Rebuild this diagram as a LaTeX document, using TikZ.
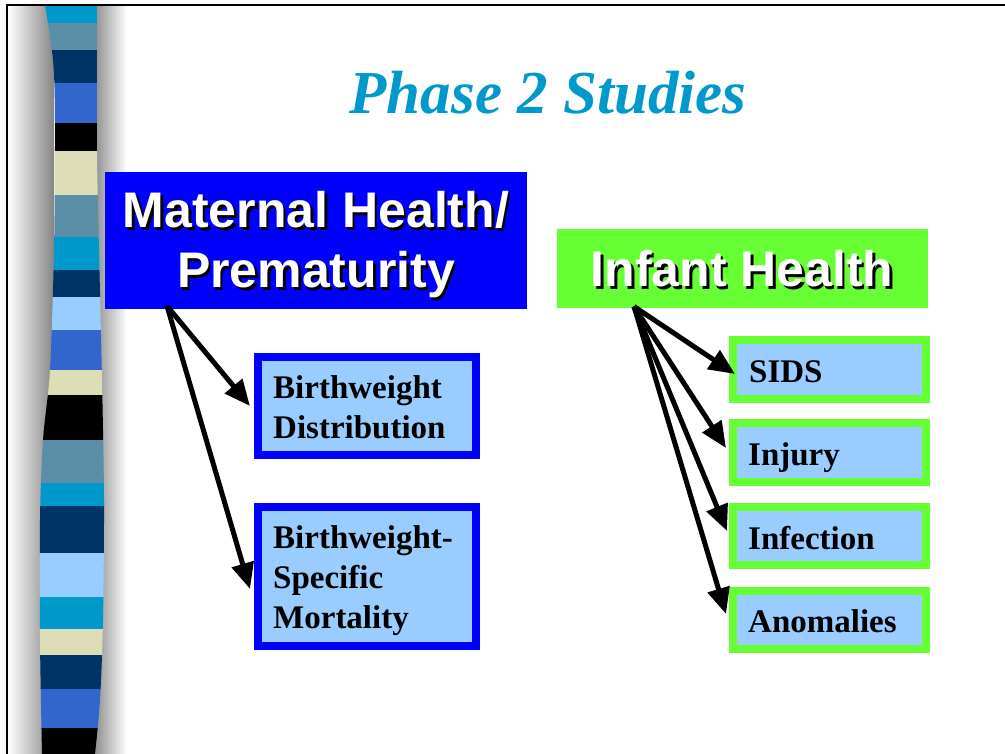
\documentclass[tikz,border=0pt]{standalone}
\usepackage{fontspec}
\setmainfont{Liberation Serif}
\newfontfamily\hsans{Liberation Sans}
\usetikzlibrary{arrows.meta,calc}
\definecolor{tealb}{HTML}{0099CC}
\definecolor{steel}{HTML}{5B8FA8}
\definecolor{navy}{HTML}{003366}
\definecolor{midb}{HTML}{3366CC}
\definecolor{beige}{HTML}{DDDDB8}
\definecolor{lightb}{HTML}{99CCFF}
\definecolor{pureb}{HTML}{0000FF}
\definecolor{limeg}{HTML}{66FF33}
\newcommand{\shadowtxt}[1]{\makebox[0pt][l]{\hspace{2.5pt}\raisebox{-2.5pt}{\color{black}#1}}#1}
\tikzset{
 bigbox/.style={rectangle, inner sep=0pt, outer sep=0pt},
 subbox/.style={rectangle, draw, line width=8pt, fill=lightb, inner sep=0pt, outer sep=0pt},
 headtxt/.style={font=\hsans\bfseries\fontsize{50}{60}\selectfont, text=white, inner sep=0pt, anchor=base},
 subtxt/.style={font=\bfseries\fontsize{33}{40}\selectfont, inner sep=0pt, anchor=base west},
 conn/.style={line width=5pt, -{Triangle[length=26pt,width=22pt]}},
}
\begin{document}
\begin{tikzpicture}[x=1pt,y=-1pt]
\useasboundingbox (0,0) rectangle (1005,754);
\fill[white] (0,0) rectangle (1005,754);
% shadows of the band
\shade[left color=white, right color=black!48] (8,5) rectangle (54,754);
\shade[left color=black!45, right color=white] (94,5) rectangle (127,754);
% band
\begin{scope}
\clip plot[smooth] coordinates {(45,5) (53,60) (55,120) (54,250) (50,370) (43,440) (40,520) (40,640) (42,754)}
 -- plot[smooth] coordinates {(95,754) (100,700) (103,620) (104,500) (102,380) (99,250) (97,150) (97,5)} -- cycle;
\fill[tealb] (30,5) rectangle (120,23);
\fill[steel] (30,23) rectangle (120,50);
\fill[navy] (30,50) rectangle (120,83);
\fill[midb] (30,83) rectangle (120,123);
\fill[black] (30,123) rectangle (120,151);
\fill[beige] (30,151) rectangle (120,195);
\fill[steel] (30,195) rectangle (120,237);
\fill[tealb] (30,237) rectangle (120,270);
\fill[navy] (30,270) rectangle (120,297);
\fill[lightb] (30,297) rectangle (120,330);
\fill[midb] (30,330) rectangle (120,370);
\fill[beige] (30,370) rectangle (120,395);
\fill[black] (30,395) rectangle (120,440);
\fill[steel] (30,440) rectangle (120,483);
\fill[tealb] (30,483) rectangle (120,506);
\fill[navy] (30,506) rectangle (120,553);
\fill[lightb] (30,553) rectangle (120,597);
\fill[tealb] (30,597) rectangle (120,629);
\fill[beige] (30,629) rectangle (120,655);
\fill[navy] (30,655) rectangle (120,689);
\fill[midb] (30,689) rectangle (120,728);
\fill[black] (30,728) rectangle (120,754);
\end{scope}
\draw[line width=1.5pt] (7,754) -- (7,5) -- (1005,5);
% title
\node[font=\bfseries\itshape\fontsize{61}{62}\selectfont, text=tealb, inner sep=0pt, anchor=base] (title) at (548,114) {Phase 2 Studies};
% big boxes
\node[bigbox, fill=pureb, minimum width=422pt, minimum height=137pt] (mat) at (316,240.5) {};
\node[bigbox, fill=limeg, minimum width=371pt, minimum height=79pt] (inf) at (742.5,269) {};
\node[headtxt] (mat1) at (316,228) {\shadowtxt{Maternal Health/}};
\node[headtxt] (mat2) at (316,288) {\shadowtxt{Prematurity}};
\node[headtxt] (inft) at (742,287) {\shadowtxt{Infant Health}};
% sub boxes
\node[subbox, draw=pureb, minimum width=218pt, minimum height=98pt] (bd) at (367,406) {};
\node[subbox, draw=pureb, minimum width=218pt, minimum height=139pt] (bwm) at (367,576.5) {};
\node[subbox, draw=limeg, minimum width=193pt, minimum height=59pt] (sids) at (829.5,369.5) {};
\node[subbox, draw=limeg, minimum width=193pt, minimum height=59pt] (inj) at (829.5,452.5) {};
\node[subbox, draw=limeg, minimum width=193pt, minimum height=58pt] (infc) at (829.5,536) {};
\node[subbox, draw=limeg, minimum width=193pt, minimum height=58pt] (anom) at (829.5,620) {};
% sub texts
\node[subtxt] (bd1) at (273,399) {Birthweight};
\node[subtxt] (bd2) at (273,438) {Distribution};
\node[subtxt] (bwm1) at (273,548) {Birthweight-};
\node[subtxt] (bwm2) at (273,588) {Specific};
\node[subtxt] (bwm3) at (273,628) {Mortality};
\node[subtxt] (sidst) at (749,382) {SIDS};
\node[subtxt] (injt) at (748,465) {Injury};
\node[subtxt] (infct) at (748,549) {Infection};
\node[subtxt] (anomt) at (748,632) {Anomalies};
% connectors
\draw[conn] ($(mat.south west)+(62,-3)$) -- ($(bd.west)+(-8,0)$);
\draw[conn] ($(mat.south west)+(62,-3)$) -- ($(bwm.west)+(-8,12.5)$);
\draw[conn] ($(inf.south west)+(77,-2)$) -- ($(sids.west)+(2,4.5)$);
\draw[conn] ($(inf.south west)+(77,-2)$) -- ($(inj.west)+(-7,-4.5)$);
\draw[conn] ($(inf.south west)+(77,-2)$) -- ($(infc.west)+(-6,-5)$);
\draw[conn] ($(inf.south west)+(77,-2)$) -- ($(anom.west)+(-7,-6)$);
\end{tikzpicture}
\end{document}
